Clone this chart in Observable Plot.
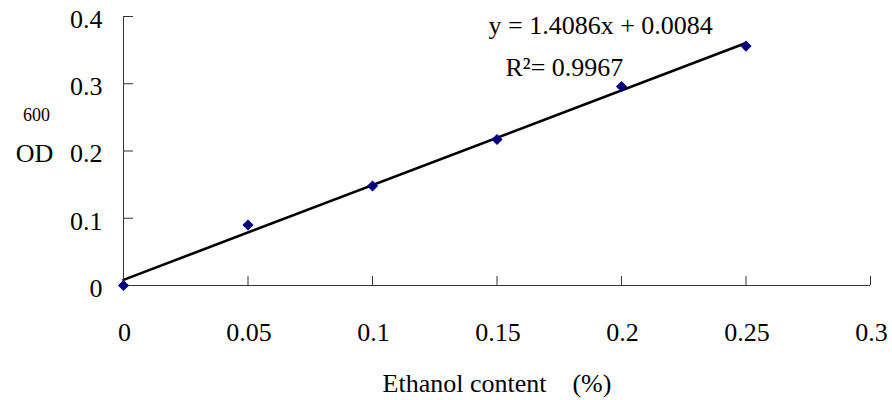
<!DOCTYPE html>
<html>
<head>
<meta charset="utf-8">
<script src="https://cdn.jsdelivr.net/npm/d3@7"></script>
<script src="https://cdn.jsdelivr.net/npm/@observablehq/plot@0.6"></script>
<style>
  html, body { margin: 0; padding: 0; background: #fff; }
  svg { display: block; }
</style>
</head>
<body>
<div id="chart"></div>
<script>
const ethanol = [0, 0.05, 0.1, 0.15, 0.2, 0.25];
const od600 = [0, 0.09, 0.148, 0.217, 0.296, 0.356];
const xTicks = [0, 0.05, 0.1, 0.15, 0.2, 0.25, 0.3];
const yTicks = [0, 0.1, 0.2, 0.3, 0.4];
const slope = 1.4086;
const intercept = 0.0084;
const eqLabel = "y = 1.4086x + 0.0084";
const r2Label = "R\u00B2= 0.9967";
const xLabel = "Ethanol content\u2002\u2002(%)";

const points = ethanol.map((x, i) => ({x, y: od600[i]}));
const fitX = [ethanol[0], ethanol[ethanol.length - 1]];
const fit = fitX.map(x => ({x, y: slope * x + intercept}));

const font = "Liberation Serif";

const chart = Plot.plot({
  width: 892,
  height: 400,
  marginLeft: 123,
  marginRight: 22,
  marginTop: 16,
  marginBottom: 115,
  style: {fontFamily: font, fontSize: "26px", color: "#000", background: "#fff", overflow: "visible"},
  x: {domain: [0, 0.3], label: null},
  y: {domain: [0, 0.4], label: null},
  marks: [
    Plot.ruleX([0], {y1: 0, y2: 0.4, stroke: "#333", strokeWidth: 1}),
    Plot.ruleY([0], {x1: 0, x2: 0.3, stroke: "#333", strokeWidth: 1}),
    Plot.ruleX(xTicks, {x: d => d, y1: 0, y2: 0, insetTop: -9, stroke: "#333"}),
    Plot.ruleY(yTicks, {y: d => d, x1: 0, x2: 0, insetRight: -10, stroke: "#333"}),
    Plot.axisX(xTicks, {tickSize: 0, tickPadding: 37, tickFormat: d => String(d), fontSize: 26, letterSpacing: 2, dx: 1, label: null, fontFamily: font}),
    Plot.axisY(yTicks, {tickSize: 0, tickPadding: 21, tickFormat: d => String(d), fontSize: 26, dy: 3, letterSpacing: 2, label: null, fontFamily: font}),
    Plot.line(fit, {x: "x", y: "y", stroke: "#000", strokeWidth: 2.6}),
    Plot.dot(points, {x: "x", y: "y", symbol: "diamond2", r: 5, fill: "#000080", stroke: "none"}),
    Plot.text([eqLabel], {text: d => d, frameAnchor: "top-left", dx: 365, dy: 9, textAnchor: "start", lineAnchor: "middle", fontSize: 26, letterSpacing: 2.4, fontFamily: font}),
    Plot.text([r2Label], {text: d => d, frameAnchor: "top-left", dx: 382, dy: 51, textAnchor: "start", lineAnchor: "middle", fontSize: 26, letterSpacing: 3, fontFamily: font}),
    Plot.text(["OD"], {text: d => d, frameAnchor: "left", dx: -89, dy: 3, textAnchor: "middle", lineAnchor: "middle", fontSize: 26, letterSpacing: 1, fontFamily: font}),
    Plot.text(["600"], {text: d => d, frameAnchor: "left", dx: -87, dy: -36, textAnchor: "middle", lineAnchor: "middle", fontSize: 18, fontFamily: font}),
    Plot.text([xLabel], {text: d => d, frameAnchor: "bottom", dx: 0, dy: 98, textAnchor: "middle", lineAnchor: "middle", fontSize: 26, letterSpacing: 1.1, fontFamily: font})
  ]
});
document.getElementById("chart").appendChild(chart);
</script>
</body>
</html>
